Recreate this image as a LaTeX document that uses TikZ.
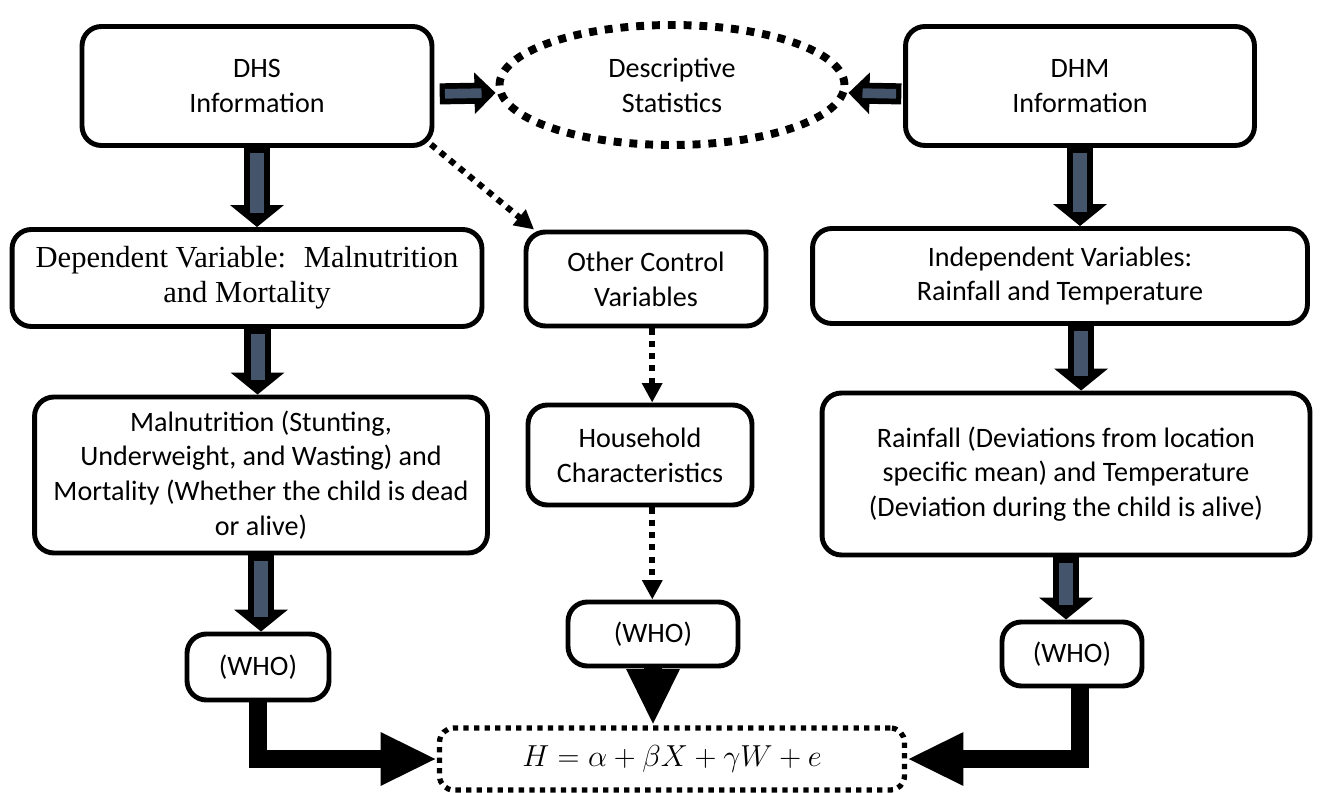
\documentclass[tikz,border=0pt]{standalone}
\usepackage{fontspec}
\setmainfont{Carlito}
\newfontfamily\timesfont{Liberation Serif}
\usetikzlibrary{arrows.meta,shapes.geometric}
\definecolor{slate}{HTML}{44546A}

\begin{document}
\begin{tikzpicture}[x=0.02cm,y=-0.02cm]
\tikzstyle{box} = [rectangle, draw, line width=2.8pt, rounded corners=11pt,
align=center, inner sep=2pt, font=\fontsize{16}{19.8}\selectfont]
\tikzstyle{cloud} = [ellipse, draw, line width=4.5pt, dash pattern=on 4.5pt off 4.5pt,
align=center, inner sep=0pt, font=\fontsize{16}{19.8}\selectfont]
\tikzstyle{eqbox} = [rectangle, draw, line width=3pt, dash pattern=on 3pt off 3pt,
rounded corners=8pt, font=\fontsize{17}{20}\selectfont]
\tikzstyle{blockarrow} = [draw=black, line width=15pt, -{Triangle[length=12.5pt,width=30pt]},
postaction={draw=slate, line width=8pt, -, shorten >=8pt, shorten <=3pt}]
\tikzstyle{sidearrow} = [draw=black, line width=12pt, -{Triangle[length=12pt,width=23pt]},
postaction={draw=slate, line width=5.5pt, -, shorten >=8pt, shorten <=3pt}]
\tikzstyle{dotarrow} = [draw, line width=3.5pt, dash pattern=on 3.5pt off 3.5pt,
-{Triangle[length=11pt,width=11pt]}]
\tikzstyle{fatarrow} = [draw, line width=10pt, -{Triangle[length=32pt,width=28pt]}]
\useasboundingbox (0,0) rectangle (1331,793);

% row 1
\node [box, minimum width=7cm, minimum height=2.38cm] (dhs) at (257,86) {DHS\\Information};
\node [cloud, minimum width=6.9cm, minimum height=2.4cm] (desc) at (672,85) {Descriptive\\Statistics};
\node [box, minimum width=6.98cm, minimum height=2.38cm] (dhm) at (1080,86) {DHM\\Information};
% row 2
\node [box, minimum width=9.4cm, minimum height=1.94cm, font=\fontsize{17.4}{19.8}\timesfont] (dep) at (247,278)
  {Dependent Variable:~ Malnutrition\\and Mortality};
\node [box, minimum width=4.8cm, minimum height=1.88cm] (other) at (646,279) {Other Control\\Variables};
\node [box, minimum width=9.9cm, minimum height=1.9cm] (indep) at (1060,276)
  {Independent Variables:\\Rainfall and Temperature};
% row 3
\node [box, minimum width=9.06cm, minimum height=3.12cm] (maln) at (261,475)
  {Malnutrition (Stunting,\\Underweight, and Wasting) and\\Mortality (Whether the child is dead\\or alive)};
\node [box, minimum width=4.48cm, minimum height=2cm] (house) at (640,455) {Household\\Characteristics};
\node [box, minimum width=9.76cm, minimum height=3.24cm] (rain) at (1066,474)
  {Rainfall (Deviations from location\\specific mean) and Temperature\\(Deviation during the child is alive)};
% row 4
\node [box, minimum width=2.84cm, minimum height=1.32cm] (whoL) at (258,667) {(WHO)};
\node [box, minimum width=3.4cm, minimum height=1.28cm] (whoM) at (653,634) {(WHO)};
\node [box, minimum width=2.8cm, minimum height=1.28cm] (whoR) at (1072,654) {(WHO)};
% row 5
\node [eqbox, minimum width=9.3cm, minimum height=1.24cm] (eq) at (672,759) {$H=\alpha+\beta X+\gamma W+e$};

\path [sidearrow] ([xshift=3pt,yshift=-4.5pt]dhs.east) -- ([yshift=-4.5pt]desc.west);
\path [sidearrow] ([xshift=-1pt,yshift=-4.5pt]dhm.west) -- ([yshift=-4.5pt]desc.east);
\path [blockarrow] (dhs.south) -- (dhs.south |- dep.north);
\path [blockarrow] ([xshift=6pt]dep.south) -- ([xshift=6pt]dep.south |- maln.north);
\path [blockarrow] (maln.south) -- (maln.south |- whoL.north);
\path [blockarrow] (dhm.south) -- (dhm.south |- indep.north);
\path [blockarrow] ([xshift=12pt]indep.south) -- ([xshift=12pt]indep.south |- rain.north);
\path [blockarrow] (rain.south) -- (rain.south |- whoR.north);

\path [dotarrow] ([shift={(-2pt,2pt)}]dhs.south east) -- ([xshift=6pt]other.north west);
\path [dotarrow] ([xshift=3.5pt]other.south) -- ([xshift=3.5pt]other.south |- house.north);
\path [dotarrow] ([xshift=7pt]house.south) -- ([xshift=7pt]house.south |- whoM.north);

\path [fatarrow] (whoL.south) |- (eq.west);
\path [fatarrow] (whoM.south) -- (whoM.south |- eq.north);
\path [fatarrow] ([xshift=4.5pt]whoR.south) |- (eq.east);
\end{tikzpicture}
\end{document}
